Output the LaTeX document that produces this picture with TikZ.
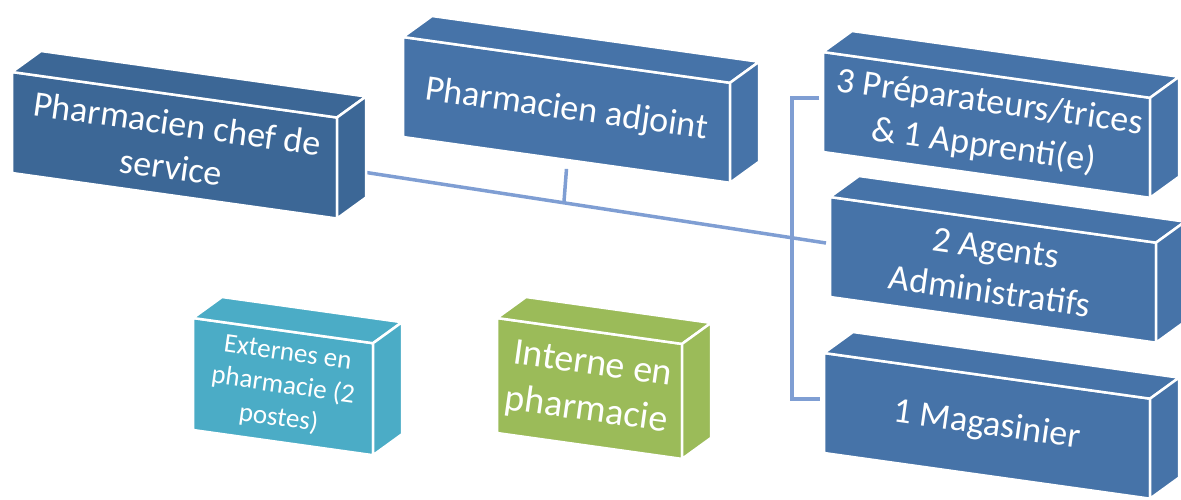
\documentclass[tikz,border=0pt]{standalone}
\usepackage{fontspec}
\setmainfont{Carlito}
\usepackage{tikz}
\usetikzlibrary{calc,backgrounds}

\definecolor{chefblue}{HTML}{3C6796}
\definecolor{staffblue}{HTML}{4673A8}
\definecolor{extaqua}{HTML}{4BACC6}
\definecolor{intgreen}{HTML}{9BBB59}
\definecolor{linkblue}{HTML}{7F9ED3}

% #1 name, #2 x, #3 y (front top left), #4 width, #5 height, #6 colour, #7 font size, #8 text
\newcommand{\slab}[8]{
  \pgfmathsetmacro{\slp}{0.14*#4}
  \pgfmathsetmacro{\bsk}{1.22*#7}
  \fill [#6, face] (#2,#3) -- (#2+#4,#3+\slp) -- (#2+#4,#3+\slp+#5) -- (#2,#3+#5) -- cycle;
  \fill [#6, face] (#2,#3) -- (#2+29,#3-21) -- (#2+#4+29,#3+\slp-21) -- (#2+#4,#3+\slp) -- cycle;
  \fill [#6, face] (#2+#4,#3+\slp) -- (#2+#4+29,#3+\slp-21) -- (#2+#4+29,#3+\slp+#5-21) -- (#2+#4,#3+\slp+#5) -- cycle;
  \node (#1) at (#2+#4/2,#3+\slp/2+#5/2) [label text, font=\fontsize{#7}{\bsk}\selectfont] {#8};
  \coordinate (#1-l) at (#2-4,#3+#5/2-4);
  \coordinate (#1-r) at (#2+#4,#3+\slp+#5/2);
  \coordinate (#1-b) at (#2+#4/2,#3+\slp/2+#5+9);
}

\begin{document}
\begin{tikzpicture}
  [x=1pt, y=-1pt,
   face/.style={draw=white, line width=2.5pt, line join=round},
   label text/.style={text=white, align=center, inner sep=0pt, rotate=-8},
   link/.style={draw=linkblue, line width=3.5pt}]
  \useasboundingbox (0,0) rectangle (1181,499);

  % top row
  \slab{chef}{12}{72}{325}{101}{chefblue}{36}{Pharmacien chef de\\service}
  \slab{adjoint}{403}{37}{327}{100}{staffblue}{36}{Pharmacien adjoint}
  % staff column
  \slab{prep}{823}{52}{327}{100}{staffblue}{36}{3 Préparateurs/trices\\\& 1 Apprenti(e)}
  \slab{agents}{830}{197}{326}{100}{staffblue}{36}{2 Agents\\Administratifs}
  \slab{magas}{824}{353}{326}{100}{staffblue}{36}{1 Magasinier}
  % students
  \slab{externes}{193}{318}{180}{112}{extaqua}{27}{Externes en\\pharmacie (2\\postes)}
  \slab{interne}{497}{318}{185}{115}{intgreen}{38}{Interne en\\pharmacie}

  % draw links
  \begin{pgfonlayer}{background}
    \draw [link] (chef-r) -- (agents-l);
    \draw [link] (adjoint-b) -- ($(chef-r)!0.464!(agents-l)$);
    \coordinate (bus) at (792,97);
    \draw [link] (prep-l) -- (prep-l -| bus) -- (magas-l -| bus) -- (magas-l);
  \end{pgfonlayer}
\end{tikzpicture}
\end{document}
